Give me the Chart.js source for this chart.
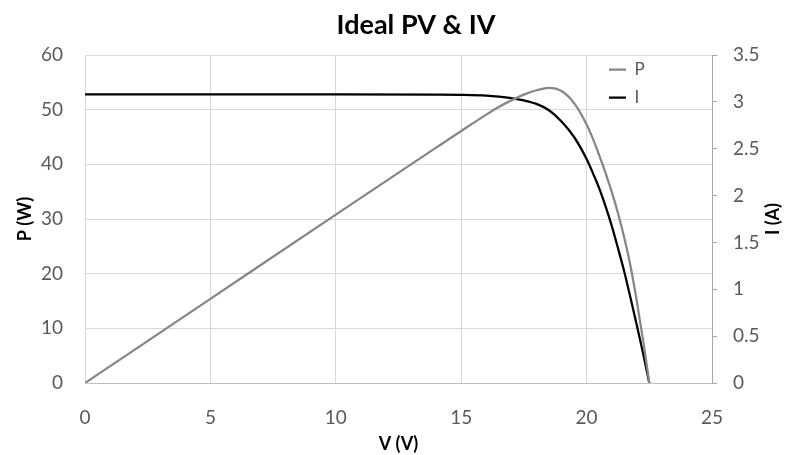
<!DOCTYPE html>
<html>
<head>
<meta charset="utf-8">
<script src="https://cdn.jsdelivr.net/npm/chart.js@4.4.1/dist/chart.umd.min.js"></script>
<style>
html,body{margin:0;padding:0;background:#fff;}
#wrap{width:792px;height:455px;position:relative;}
</style>
</head>
<body>
<div id="wrap"><canvas id="c" width="792" height="455"></canvas></div>
<script>
// Data
const voltage = [0, 5, 10, 14, 15, 16, 16.5, 17, 17.5, 18, 18.5, 19, 19.5, 20, 20.25, 20.5, 20.75, 21, 21.25, 21.5, 21.75, 22, 22.25, 22.5];
const power   = [0, 15.4, 30.8, 43.05, 46.1, 49.1, 50.5, 51.7, 52.75, 53.55, 54.0, 53.4, 51.2, 47.3, 44.7, 41.7, 38.5, 35.0, 31.1, 26.6, 21.4, 15.0, 7.9, 0];
const current = [3.08, 3.08, 3.08, 3.077, 3.074, 3.066, 3.056, 3.04, 3.015, 2.978, 2.91, 2.79, 2.625, 2.39, 2.24, 2.08, 1.89, 1.68, 1.44, 1.19, 0.91, 0.62, 0.32, 0];
const xTicks = [0, 5, 10, 15, 20, 25];
const pTicks = [0, 10, 20, 30, 40, 50, 60];
const iTicks = [0, 0.5, 1, 1.5, 2, 2.5, 3, 3.5];
const seriesNames = ['P', 'I'];
const titleText = 'Ideal PV & IV';
const xTitle = 'V (V)';
const pTitle = 'P (W)';
const iTitle = 'I (A)';

const FONT = 'Lato, "Open Sans", sans-serif';
const TICK_COLOR = '#595959';
const GRID = '#d9d9d9';

const toPts = (ys) => voltage.map((v, i) => ({x: v, y: ys[i]}));

const layoutPlugin = {
  id: 'layoutTweak',
  afterLayout(chart) {
    const lg = chart.legend;
    if (lg) {
      const w = lg.width;
      lg.left = chart.chartArea.right - 114;
      lg.right = lg.left + w;
      lg.top = chart.chartArea.top - 5;
    }
    const tb = chart.titleBlock;
    if (tb) { tb.left += 20; tb.right += 20; }
  },
  afterDraw(chart) {
    const ctx = chart.ctx;
    const area = chart.chartArea;
    ctx.save();
    ctx.font = 'bold 18px ' + FONT;
    ctx.fillStyle = '#000';
    ctx.textAlign = 'center';
    ctx.textBaseline = 'middle';
    ctx.translate(773, (area.top + area.bottom) / 2);
    ctx.rotate(-Math.PI / 2);
    ctx.fillText(iTitle, 0, 0);
    ctx.restore();
  }
};

const tickFmt = (v) => String(v);

new Chart(document.getElementById('c'), {
  type: 'scatter',
  data: {
    datasets: [
      {label: seriesNames[0], data: toPts(power), yAxisID: 'yP', showLine: true,
       borderColor: '#868686', backgroundColor: '#868686', borderWidth: 2.25,
       pointRadius: 0, cubicInterpolationMode: 'monotone'},
      {label: seriesNames[1], data: toPts(current), yAxisID: 'yI', showLine: true,
       borderColor: '#000000', backgroundColor: '#000000', borderWidth: 2.25,
       pointRadius: 0, cubicInterpolationMode: 'monotone'}
    ]
  },
  options: {
    responsive: false,
    animation: false,
    layout: {padding: 0},
    plugins: {
      title: {display: true, text: titleText, color: '#000',
        font: {family: FONT, size: 27, weight: 'bold'}, padding: {top: 9, bottom: 13.6}},
      legend: {position: 'chartArea', align: 'start',
        labels: {usePointStyle: true, pointStyle: 'line', pointStyleWidth: 17,
          sort: (a, b) => a.datasetIndex - b.datasetIndex,
          color: TICK_COLOR, font: {family: FONT, size: 17}, padding: 11}},
      tooltip: {enabled: false}
    },
    scales: {
      x: {type: 'linear', min: 0, max: 25,
        afterBuildTicks: (s) => { s.ticks = xTicks.map(v => ({value: v})); },
        afterFit: (s) => { s.height = 72; },
        grid: {color: GRID, drawTicks: false},
        border: {color: '#bfbfbf', width: 1},
        ticks: {color: TICK_COLOR, font: {family: FONT, size: 19}, padding: 23, maxRotation: 0, callback: tickFmt},
        title: {display: true, text: xTitle, color: '#000', font: {family: FONT, size: 18, weight: 'bold'},
          padding: {top: 0, bottom: 0}}
      },
      yP: {type: 'linear', position: 'left', min: 0, max: 60,
        afterBuildTicks: (s) => { s.ticks = pTicks.map(v => ({value: v})); },
        afterFit: (s) => { s.width = 85; },
        grid: {color: GRID, drawTicks: false},
        border: {color: GRID, width: 1},
        ticks: {color: TICK_COLOR, font: {family: FONT, size: 19}, padding: 22, callback: tickFmt},
        title: {display: true, text: pTitle, color: '#000', font: {family: FONT, size: 18, weight: 'bold'},
          padding: {top: 14, bottom: 0}}
      },
      yI: {type: 'linear', position: 'right', min: 0, max: 3.5,
        afterBuildTicks: (s) => { s.ticks = iTicks.map(v => ({value: v})); },
        afterFit: (s) => { s.width = 80; },
        grid: {drawOnChartArea: false, color: '#a6a6a6', drawTicks: true, tickLength: 5},
        border: {color: '#a6a6a6', width: 1},
        ticks: {color: TICK_COLOR, font: {family: FONT, size: 19}, padding: 16, callback: tickFmt}
      }
    }
  },
  plugins: [layoutPlugin]
});
</script>
</body>
</html>
